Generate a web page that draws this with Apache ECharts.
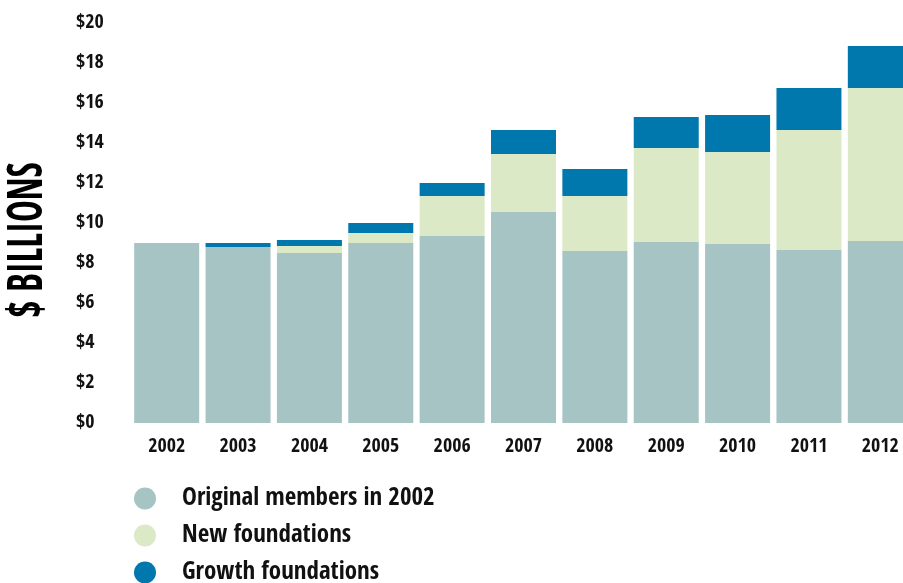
<!DOCTYPE html>
<html>
<head>
<meta charset="utf-8">
<script src="https://cdn.jsdelivr.net/npm/echarts@6/dist/echarts.min.js"></script>
<style>
html,body{margin:0;padding:0;background:#fff;}
#main{width:903px;height:583px;}
</style>
</head>
<body>
<div id="main"></div>
<script>
const years = ['2002','2003','2004','2005','2006','2007','2008','2009','2010','2011','2012'];
const originalMembers = [9.0, 8.8, 8.5, 9.0, 9.35, 10.55, 8.6, 9.05, 8.95, 8.65, 9.1];
const newFoundations = [0, 0, 0.35, 0.5, 2.0, 2.9, 2.75, 4.7, 4.6, 6.0, 7.65];
const growthFoundations = [0, 0.2, 0.3, 0.5, 0.65, 1.2, 1.35, 1.55, 1.85, 2.1, 2.1];
const seriesNames = ['Original members in 2002', 'New foundations', 'Growth foundations'];
const yTicks = [0, 2, 4, 6, 8, 10, 12, 14, 16, 18, 20];
const axisTitle = '$ BILLIONS';

const colors = ['#a7c4c5', '#dce9c6', '#0077ad'];
const narrow = '"Open Sans Condensed", "Roboto Condensed", "DejaVu Sans Condensed", sans-serif';

// squeeze the axis title to the compressed display face of the original
const titleFontSize = 48;
const titleFont = 'bold ' + titleFontSize + 'px "Open Sans Condensed", "Roboto Condensed", sans-serif';
const cnv = document.createElement('canvas').getContext('2d');
cnv.font = titleFont;
const titleW = cnv.measureText(axisTitle).width;
const titleScale = 155 / titleW;

const chart = echarts.init(document.getElementById('main'), null, {renderer: 'canvas'});
const option = {
  animation: false,
  backgroundColor: '#ffffff',
  color: colors,
  grid: {left: 131, top: 23, width: 785, height: 400, containLabel: false, outerBoundsMode: 'none'},
  xAxis: {
    type: 'category',
    data: years,
    axisLine: {show: false},
    axisTick: {show: false},
    axisLabel: {color: '#111', fontFamily: narrow, fontWeight: 'bold', fontSize: 20, margin: 14}
  },
  yAxis: {
    type: 'value',
    min: yTicks[0],
    max: yTicks[yTicks.length - 1],
    interval: 2,
    splitLine: {show: false},
    axisLine: {show: false},
    axisTick: {show: false},
    axisLabel: {
      color: '#111', fontFamily: narrow, fontWeight: 'bold', fontSize: 20,
      align: 'left', margin: 55,
      formatter: v => '$' + v
    }
  },
  legend: {
    orient: 'vertical',
    left: 129,
    top: 481,
    height: 120,
    itemWidth: 22,
    itemHeight: 22,
    itemGap: 12,
    icon: 'circle',
    textStyle: {color: '#111', fontFamily: narrow, fontWeight: 'bold', fontSize: 25, padding: [0, 0, 0, 21]},
    data: seriesNames
  },
  graphic: [{
    type: 'text',
    x: 29,
    y: 240,
    rotation: Math.PI / 2,
    scaleX: titleScale,
    scaleY: 1,
    style: {
      text: axisTitle,
      font: titleFont,
      fill: '#000',
      textAlign: 'center',
      textVerticalAlign: 'middle'
    }
  }],
  series: [
    {name: seriesNames[0], type: 'bar', stack: 'total', barWidth: 65, data: originalMembers, itemStyle: {color: colors[0]}},
    {name: seriesNames[1], type: 'bar', stack: 'total', barWidth: 65, data: newFoundations, itemStyle: {color: colors[1]}},
    {name: seriesNames[2], type: 'bar', stack: 'total', barWidth: 65, data: growthFoundations, itemStyle: {color: colors[2]}}
  ]
};
chart.setOption(option);
</script>
</body>
</html>
